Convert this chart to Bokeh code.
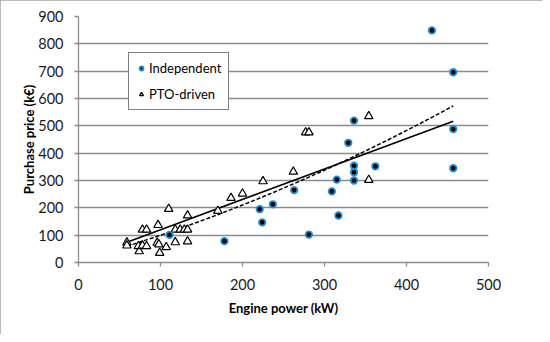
import numpy as np
from bokeh.plotting import figure
from bokeh.models import (Legend, LegendItem, ColumnDataSource, FixedTicker, Range1d,
                          BoxAnnotation, InlineStyleSheet)
from bokeh.embed import file_html
from bokeh.resources import INLINE

# Independent machines: engine power (kW) and purchase price (k€)
ind_kw = [111, 178, 221, 224, 237, 263, 281, 309, 315, 317, 329, 336, 336, 336, 336, 362, 431, 457, 457, 457]
ind_price = [101, 78, 195, 147, 213, 265, 102, 260, 303, 172, 438, 519, 354, 330, 300, 352, 849, 696, 488, 345]

# PTO-driven machines
pto_kw = [59, 59, 74, 73, 78, 78, 83, 83, 96, 98, 97, 99, 107, 110, 118, 124, 129, 133,
          118, 133, 133, 170, 186, 200, 225, 262, 277, 281, 354, 354]
pto_price = [73, 62, 41, 60, 62, 120, 120, 60, 72, 66, 137, 35, 56, 196, 120, 120, 120, 120,
             74, 77, 172, 189, 236, 252, 297, 332, 476, 476, 535, 302]

# Trend lines (linear: solid, curved: dashed)
lin_trend_kw = [59, 457]
lin_trend_price = [74, 517]
curve_trend_kw = [59, 156, 253, 347, 457]
curve_trend_price = [60, 157, 281, 400, 574]

x_ticks = [0, 100, 200, 300, 400, 500]
y_ticks = [0, 100, 200, 300, 400, 500, 600, 700, 800, 900]

FONT = "Lato"
GRID = "#8c8c8c"
BLUE = "#1f8fd8"
EDGE = "#a3a3a3"

W, H = 542, 334
ML, MR, MT, MB = 78, 54, 16, 72
p = figure(width=W, height=H, output_backend="svg", toolbar_location=None,
           x_range=Range1d(0, 500), y_range=Range1d(0, 900),
           min_border_left=ML, min_border_right=MR, min_border_top=MT, min_border_bottom=MB)
p.outline_line_color = None
p.background_fill_color = "white"
p.border_fill_color = "white"
p.stylesheets = [InlineStyleSheet(css=":host { outline: 2px solid %s; outline-offset: -2px; }" % EDGE)]

# outer chart border, expressed through the plot's own scales
fw, fh = W - ML - MR, H - MT - MB
kx, ky = 500 / fw, 900 / fh
p.add_layout(BoxAnnotation(left=-(ML - 1) * kx, right=500 + (MR - 1) * kx,
                           bottom=-(MB - 1) * ky, top=900 + (MT - 1) * ky,
                           fill_alpha=0, line_color=EDGE, line_width=2, line_alpha=1,
                           level="underlay"))

p.xgrid.visible = False
p.ygrid.grid_line_color = GRID
p.ygrid.grid_line_width = 1.3
p.ygrid.ticker = FixedTicker(ticks=y_ticks)

for ax in (p.xaxis[0], p.yaxis[0]):
    ax.axis_line_color = GRID
    ax.axis_line_width = 1.3
    ax.major_tick_line_color = GRID
    ax.major_tick_line_width = 1.3
    ax.major_tick_out = 4
    ax.major_tick_in = 0
    ax.minor_tick_line_color = None
    ax.major_label_text_font = FONT
    ax.major_label_text_font_size = "14.5px"
    ax.major_label_text_color = "#1a1a1a"
    ax.axis_label_text_font = FONT
    ax.axis_label_text_font_size = "13px"
    ax.axis_label_text_font_style = "bold"
    ax.axis_label_text_color = "black"

p.xaxis.ticker = FixedTicker(ticks=x_ticks)
p.yaxis.ticker = FixedTicker(ticks=y_ticks)
p.xaxis.axis_label = "Engine power (kW)"
p.yaxis.axis_label = "Purchase price (k€)"
p.xaxis.major_label_standoff = 12
p.yaxis.major_label_standoff = 11
p.xaxis.axis_label_standoff = 7
p.yaxis.axis_label_standoff = -2

# Trend lines
p.line(lin_trend_kw, lin_trend_price, line_color="black", line_width=1.5)
coef = np.polyfit(curve_trend_kw, curve_trend_price, 2)
xs = np.linspace(min(curve_trend_kw), max(curve_trend_kw), 200)
p.line(xs, np.polyval(coef, xs), line_color="black", line_width=1.5, line_dash="4 2")

r_pto = p.scatter(x="kw", y="price", source=ColumnDataSource(dict(kw=pto_kw, price=pto_price)),
                  marker="triangle", size=8.5, fill_color="white", line_color="black", line_width=1.2)
r_ind = p.scatter(x="kw", y="price", source=ColumnDataSource(dict(kw=ind_kw, price=ind_price)),
                  marker="circle", size=6.5, fill_color="black", line_color=BLUE, line_width=1.8)

legend = Legend(items=[LegendItem(label="Independent", renderers=[r_ind]),
                       LegendItem(label="PTO-driven", renderers=[r_pto])],
                location=(50, 152))
legend.label_text_font = FONT
legend.label_text_font_size = "13px"
legend.label_text_color = "black"
legend.border_line_color = "black"
legend.border_line_width = 1
legend.background_fill_color = "white"
legend.background_fill_alpha = 1
legend.glyph_width = 10
legend.glyph_height = 16
legend.label_height = 16
legend.label_standoff = 3
legend.spacing = 10
legend.padding = 7
legend.margin = 0
p.add_layout(legend, "center")

open("out.html", "w").write(file_html(p, INLINE))
